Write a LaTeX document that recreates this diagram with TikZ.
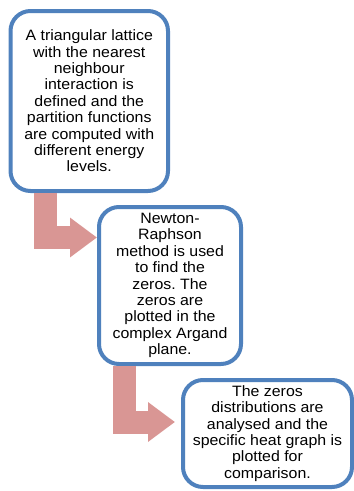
\documentclass[tikz,border=0pt]{standalone}
\usepackage{fontspec}
\setmainfont[FakeStretch=1.06]{Liberation Sans}
\usetikzlibrary{arrows.meta,calc}
\definecolor{stageblue}{HTML}{4F81BD}
\definecolor{stagepink}{HTML}{D99694}
\frenchspacing
\begin{document}
\begin{tikzpicture}[x=1pt,y=-1pt,
  stagebox/.style={draw=stageblue,line width=4pt,rounded corners=20pt,fill=white,
    inner sep=0pt,outer sep=0pt,align=center,font=\fontsize{15}{16.4}\selectfont},
  bentarrow/.style={draw=stagepink,line width=23pt,line join=miter,
    -{Triangle[length=27pt,width=38pt]}}]
  \useasboundingbox (0,0) rectangle (354,491);
  \node[stagebox,minimum width=157.5pt,minimum height=180pt] (lattice) at (89.25,101)
    {A triangular lattice\\with the nearest\\neighbour\\interaction is\\defined and the\\partition functions\\are computed with\\different energy\\levels.};
  \node[stagebox,minimum width=142pt,minimum height=157pt] (newton) at (170,285.5)
    {Newton-\\Raphson\\method is used\\to find the\\zeros. The\\zeros are\\plotted in the\\complex Argand\\plane.};
  \node[stagebox,minimum width=169pt,minimum height=107pt] (heat) at (267.5,433.5)
    {The zeros\\distributions are\\analysed and the\\specific heat graph is\\plotted for\\comparison.};
  \draw[bentarrow] ($(lattice.south west)+(35,2)$) |- ($(newton.north west)+(-2,30.5)$);
  \draw[bentarrow] ($(newton.south west)+(25,2)$) |- ($(heat.north west)+(-8,42)$);
\end{tikzpicture}
\end{document}
